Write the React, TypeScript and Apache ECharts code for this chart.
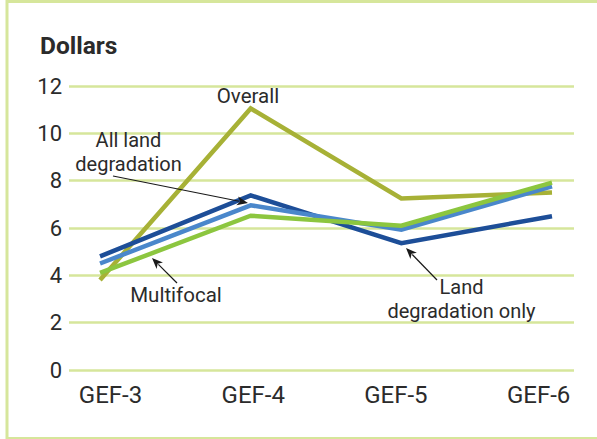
import React, { useEffect, useRef } from "react";
import * as echarts from "echarts";

const categories = ["GEF-3", "GEF-4", "GEF-5", "GEF-6"];
const yTicks = [0, 2, 4, 6, 8, 10, 12];
const overall = [3.8, 11.05, 7.25, 7.5];
const landDegradationOnly = [4.8, 7.38, 5.36, 6.5];
const allLandDegradation = [4.5, 6.96, 5.93, 7.76];
const multifocal = [4.1, 6.52, 6.1, 7.92];

const FONT = "Roboto, 'Noto Sans', sans-serif";
const TEXT = "#2b2b2b";
const GRID = "#d6e69b";

function arrow(x1: number, y1: number, x2: number, y2: number) {
  const dx = x2 - x1;
  const dy = y2 - y1;
  const len = Math.sqrt(dx * dx + dy * dy);
  const ux = dx / len;
  const uy = dy / len;
  const hl = 11;
  const hw = 4.5;
  const bx = x2 - ux * hl;
  const by = y2 - uy * hl;
  return [
    {
      type: "line",
      shape: { x1, y1, x2: bx + ux * 2, y2: by + uy * 2 },
      style: { stroke: "#1a1a1a", lineWidth: 1.2 },
      z: 100,
    },
    {
      type: "polygon",
      shape: {
        points: [
          [x2, y2],
          [bx - uy * hw, by + ux * hw],
          [bx + ux * 3, by + uy * 3],
          [bx + uy * hw, by - ux * hw],
        ],
      },
      style: { fill: "#1a1a1a" },
      z: 100,
    },
  ];
}

function label(text: string, x: number, y: number, size = 20.5) {
  return {
    type: "text",
    z: 100,
    style: {
      text,
      x,
      y,
      fill: TEXT,
      font: `${size}px ${FONT}`,
      lineHeight: 23.5,
      textAlign: "center",
      textVerticalAlign: "middle",
      align: "center",
      verticalAlign: "middle",
    },
  };
}

export default function App() {
  const ref = useRef<HTMLDivElement>(null);
  useEffect(() => {
    if (!ref.current) return;
    const chart = echarts.init(ref.current, undefined, { renderer: "svg" });
    const mk = (name: string, data: number[], color: string, z: number) => ({
      type: "line",
      name,
      data: data.map((v, i) => [i, v]),
      xAxisIndex: 0,
      symbol: "none",
      z,
      lineStyle: { color, width: 4.5, join: "miter" },
      itemStyle: { color },
    });
    chart.setOption({
      animation: false,
      backgroundColor: "#ffffff",
      grid: { left: 69, right: 23, top: 86, bottom: 69, containLabel: false },
      xAxis: [
        {
          type: "value",
          min: -0.206,
          max: 3.146,
          show: false,
        },
        {
          type: "value",
          min: -0.291,
          max: 3.248,
          position: "bottom",
          axisLine: { show: false },
          axisTick: { show: false },
          splitLine: { show: false },
          axisLabel: {
            customValues: [0, 1, 2, 3],
            formatter: (v: number) => categories[Math.round(v)] ?? "",
            color: TEXT,
            fontSize: 24,
            fontFamily: FONT,
            margin: 13,
          },
        },
      ],
      yAxis: {
        type: "value",
        min: yTicks[0],
        max: yTicks[yTicks.length - 1],
        interval: 2,
        axisLine: { show: false },
        axisTick: { show: false },
        splitLine: { lineStyle: { color: GRID, width: 2.5 } },
        axisLabel: { color: TEXT, fontSize: 22, fontFamily: FONT, margin: 7 },
      },
      series: [
        mk("Overall", overall, "#a7b136", 2),
        mk("Land degradation only", landDegradationOnly, "#1d4e98", 3),
        mk("All land degradation", allLandDegradation, "#4a87cb", 4),
        mk("Multifocal", multifocal, "#8cc63f", 5),
      ],
      graphic: [
        {
          type: "rect",
          shape: { x: 7, y: 1.5, width: 640, height: 437 },
          style: { fill: "none", stroke: GRID, lineWidth: 3 },
          silent: true,
        },
        {
          type: "text",
          style: {
            text: "Dollars",
            x: 40,
            y: 45,
            fill: TEXT,
            font: `bold 24.5px ${FONT}`,
            textAlign: "left",
            textVerticalAlign: "middle",
            align: "left",
            verticalAlign: "middle",
          },
        },
        label("Overall", 248, 96),
        label("All land\ndegradation", 128.5, 152, 20),
        label("Multifocal", 176, 294.5),
        label("Land\ndegradation only", 461.5, 299, 20),
        ...arrow(113, 176, 248, 203),
        ...arrow(177, 283, 152, 258),
        ...arrow(437, 280, 406, 248),
      ],
    });
    return () => chart.dispose();
  }, []);
  return (
    <div
      ref={ref}
      style={{ position: "fixed", left: 0, top: 0, width: 597, height: 439 }}
    />
  );
}
